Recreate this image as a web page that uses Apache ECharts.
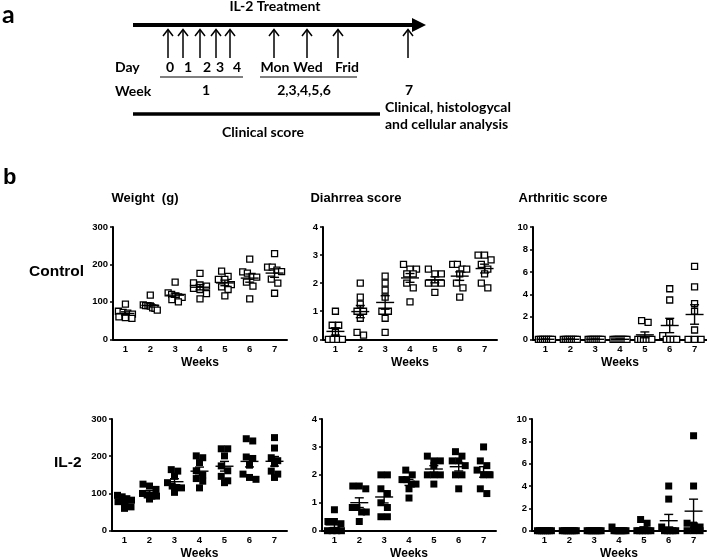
<!DOCTYPE html>
<html><head><meta charset="utf-8">
<script src="https://cdn.jsdelivr.net/npm/echarts@6/dist/echarts.min.js"></script>
<style>html,body{margin:0;padding:0;background:#fff}#c{width:707px;height:558px}</style>
</head><body><div id="c"></div>
<script>
// ---------- data ----------
const weeks = ['1','2','3','4','5','6','7'];
const panelTitles = ['Weight  (g)', 'Diahrrea score', 'Arthritic score'];
const rowLabels = ['Control', 'IL-2'];

const weightCtrl = [
  [94, 75, 72, 70, 67, 60, 58, 56],
  [118, 92, 90, 90, 89, 84, 83, 78],
  [153, 124, 120, 115, 113, 112, 106, 100],
  [176, 151, 145, 142, 136, 133, 122, 108],
  [182, 168, 160, 160, 146, 140, 133, 116],
  [214, 180, 177, 168, 166, 153, 142, 108],
  [229, 193, 193, 185, 181, 161, 150, 123]
];
const diarrheaCtrl = [
  [1.0, 0.5, 0.5, 0.25, 0, 0, 0, 0],
  [2.0, 1.5, 1.25, 1.0, 1.0, 0.75, 0.25, 0.15],
  [2.25, 2.0, 1.75, 1.5, 1.0, 1.0, 0.75, 0.25],
  [2.67, 2.5, 2.5, 2.33, 2.33, 2.0, 1.83, 1.33],
  [2.5, 2.33, 2.33, 2.0, 2.0, 2.0, 1.67],
  [2.67, 2.67, 2.5, 2.5, 2.33, 2.0, 1.83, 1.5],
  [3.0, 3.0, 2.83, 2.67, 2.5, 2.33, 2.0, 1.83]
];
const arthritisCtrl = [
  [0, 0, 0, 0, 0, 0, 0, 0],
  [0, 0, 0, 0, 0, 0, 0, 0],
  [0, 0, 0, 0, 0, 0, 0, 0],
  [0, 0, 0, 0, 0, 0, 0, 0],
  [1.67, 1.5, 0, 0, 0, 0, 0, 0],
  [4.5, 3.5, 1.5, 0.33, 0, 0, 0, 0],
  [6.5, 4.67, 3.17, 2.5, 0.83, 0, 0, 0]
];
const weightIL2 = [
  [95, 91, 86, 82, 78, 78, 64, 60],
  [125, 120, 111, 100, 96, 93, 93, 85],
  [164, 160, 146, 129, 120, 116, 115, 103],
  [201, 196, 183, 161, 150, 140, 133, 115],
  [220, 220, 201, 174, 161, 146, 134, 129],
  [247, 241, 198, 194, 176, 152, 143, 138],
  [250, 222, 196, 188, 180, 160, 152, 143]
];
const diarrheaIL2 = [
  [0.75, 0.33, 0.33, 0.25, 0, 0, 0, 0],
  [1.6, 1.6, 1.5, 0.83, 0.83, 0.67, 0.67, 0.33],
  [2.0, 2.0, 1.5, 1.33, 1.0, 0.83, 0.5, 0.5],
  [2.17, 2.0, 1.83, 1.83, 1.67, 1.67, 1.5, 1.17],
  [2.67, 2.5, 2.5, 2.33, 2.0, 2.0, 2.0, 1.67],
  [2.83, 2.67, 2.5, 2.5, 2.33, 2.0, 2.0, 1.5],
  [3.0, 2.5, 2.33, 2.17, 2.0, 2.0, 1.5, 1.33]
];
const arthritisIL2 = [
  [0, 0, 0, 0, 0, 0, 0, 0],
  [0, 0, 0, 0, 0, 0, 0, 0],
  [0, 0, 0, 0, 0, 0, 0, 0],
  [0.33, 0, 0, 0, 0, 0, 0, 0],
  [1.0, 0.67, 0, 0, 0, 0, 0, 0],
  [4.0, 2.83, 0.33, 0, 0, 0, 0, 0],
  [8.5, 4.0, 0.67, 0.5, 0.33, 0, 0, 0]
];
const yMax = [300, 4, 10];
const yInterval = [100, 1, 2];

// ---------- layout ----------
const gridBoxes = [
  {left:113, top:227, width:174, height:112.3},
  {left:323, top:227, width:174, height:112.3},
  {left:533, top:227, width:174, height:112.3},
  {left:112, top:419, width:175, height:111.7},
  {left:322, top:419, width:174, height:111.7},
  {left:532, top:419, width:174, height:111.7}
];
const panels = [
  {data: weightCtrl, kind:0, filled:false},
  {data: diarrheaCtrl, kind:1, filled:false},
  {data: arthritisCtrl, kind:2, filled:false},
  {data: weightIL2, kind:0, filled:true},
  {data: diarrheaIL2, kind:1, filled:true},
  {data: arthritisIL2, kind:2, filled:true}
];

function jitter(vals, ppu) {
  const size = 6.5, lim = 7;
  const idx = vals.map((v, i) => i).sort((a, b) => vals[b] - vals[a]);
  const rows = []; let cur = null;
  idx.forEach(i => {
    const y = vals[i] * ppu;
    if (cur && Math.abs(cur.y0 - y) < size - 1) cur.items.push(i);
    else { cur = {y0: y, items: [i]}; rows.push(cur); }
  });
  const offs = new Array(vals.length).fill(0);
  rows.forEach(r => {
    const k = r.items.length;
    const step = k > 1 ? Math.min(size, 2 * lim / (k - 1)) : 0;
    r.items.forEach((i, j) => { offs[i] = (j - (k - 1) / 2) * step; });
  });
  return offs;
}
function meanSem(vals) {
  const n = vals.length, m = vals.reduce((a, b) => a + b, 0) / n;
  const sd = Math.sqrt(vals.reduce((a, b) => a + (b - m) * (b - m), 0) / (n - 1));
  return [m, sd / Math.sqrt(n)];
}

const FONT = '"Liberation Sans", Arial, sans-serif';
const grid = [], xAxis = [], yAxis = [], series = [];
panels.forEach((p, gi) => {
  const g = gridBoxes[gi];
  grid.push(Object.assign({outerBoundsMode:'none', containLabel:false}, g));
  xAxis.push({
    type:'category', gridIndex:gi, data:weeks, boundaryGap:true,
    name:'Weeks', nameLocation:'middle', nameGap:17,
    nameTextStyle:{fontFamily:FONT, fontWeight:'bold', fontSize:12, color:'#000'},
    axisLine:{lineStyle:{color:'#000', width:2}},
    axisTick:{alignWithLabel:true, length:3, lineStyle:{color:'#000', width:1.5}},
    axisLabel:{interval:0, margin:5, fontFamily:FONT, fontWeight:'bold', fontSize:9.5, color:'#000'},
    splitLine:{show:false}
  });
  yAxis.push({
    type:'value', gridIndex:gi, min:0, max:yMax[p.kind], interval:yInterval[p.kind],
    axisLine:{show:true, lineStyle:{color:'#000', width:2}},
    axisTick:{show:true, length:3, lineStyle:{color:'#000', width:1.5}},
    axisLabel:{margin:5, fontFamily:FONT, fontWeight:'bold', fontSize:9.5, color:'#000'},
    splitLine:{show:false}
  });
  const ppu = g.height / yMax[p.kind];
  const pts = [];
  const stats = [];
  p.data.forEach((vals, wi) => {
    const offs = jitter(vals, ppu);
    vals.forEach((v, k) => pts.push({value:[wi, v], symbolOffset:[offs[k], 0]}));
    const ms = meanSem(vals);
    stats.push([wi, ms[0], ms[1]]);
  });
  series.push({
    type:'scatter', xAxisIndex:gi, yAxisIndex:gi, data:pts,
    symbol:'rect', symbolSize:p.filled ? 7 : 6, z:2,
    itemStyle: p.filled ? {color:'#000', opacity:1} : {color:'#fff', borderColor:'#000', borderWidth:1.3, opacity:1},
    emphasis:{disabled:true}, silent:true
  });
  series.push({
    type:'custom', xAxisIndex:gi, yAxisIndex:gi, data:stats, z:5, silent:true,
    renderItem: function (params, api) {
      const x = api.value(0), m = api.value(1), s = api.value(2);
      const pm = api.coord([x, m]), pt = api.coord([x, m + s]), pb = api.coord([x, m - s]);
      const st = {stroke:'#000', lineWidth:1.4};
      return {type:'group', children:[
        {type:'line', shape:{x1:pm[0]-9, y1:pm[1], x2:pm[0]+9, y2:pm[1]}, style:st},
        {type:'line', shape:{x1:pt[0], y1:pt[1], x2:pb[0], y2:pb[1]}, style:st},
        {type:'line', shape:{x1:pt[0]-4.5, y1:pt[1], x2:pt[0]+4.5, y2:pt[1]}, style:st},
        {type:'line', shape:{x1:pb[0]-4.5, y1:pb[1], x2:pb[0]+4.5, y2:pb[1]}, style:st}
      ]};
    }
  });
});

// ---------- annotation (panel a and labels) ----------
const AF = 'Lato, "Open Sans", sans-serif';
function txt(t, x, y, font, align) {
  return {type:'text', x:x, y:y, silent:true, style:{text:t, font:font, fill:'#000',
    align:align || 'center', verticalAlign:'middle', textAlign:align || 'center', textVerticalAlign:'middle'}};
}
function ln(x1, y1, x2, y2, w) {
  return {type:'line', silent:true, shape:{x1:x1, y1:y1, x2:x2, y2:y2}, style:{stroke:'#000', lineWidth:w}};
}
const AFS = 'bold 14px ' + AF;
const g = [];
g.push(txt('a', 2, 15, 'bold 25px ' + AF, 'left'));
g.push(txt('IL-2 Treatment', 275, 6, AFS));
g.push(ln(133, 25, 418, 25, 4));
g.push({type:'polygon', silent:true, shape:{points:[[412,18],[426,25],[412,32]]}, style:{fill:'#000'}});
[168, 183, 200, 216, 230, 274, 307, 338, 408].forEach(x => {
  g.push(ln(x, 58, x, 30, 1.5));
  g.push({type:'polyline', silent:true, shape:{points:[[x-5,36],[x,29.5],[x+5,36]]}, style:{stroke:'#000', lineWidth:1.5, fill:null}});
});
g.push(txt('Day', 115, 67, AFS, 'left'));
[['0',170],['1',188],['2',207],['3',220],['4',237],['Mon',275],['Wed',308],['Frid',347]].forEach(d => g.push(txt(d[0], d[1], 67, AFS)));
g.push(ln(160, 77, 243, 77, 1.2));
g.push(ln(260, 77, 357, 77, 1.2));
g.push(txt('Week', 115, 91, AFS, 'left'));
g.push(txt('1', 206, 90, AFS));
g.push(txt('2,3,4,5,6', 304, 90, AFS));
g.push(txt('7', 409, 90, AFS));
g.push(ln(133, 114, 380, 114, 3.5));
g.push(txt('Clinical score', 263, 132, AFS));
g.push(txt('Clinical, histologycal', 385, 107, AFS, 'left'));
g.push(txt('and cellular analysis', 385, 124, AFS, 'left'));

g.push(txt('b', 3, 178, 'bold 22px ' + FONT, 'left'));
[145, 356, 563].forEach((x, i) => g.push(txt(panelTitles[i], x, 198, 'bold 13px ' + FONT)));
g.push(txt(rowLabels[0], 29, 272, 'bold 15.5px ' + FONT, 'left'));
g.push(txt(rowLabels[1], 54, 463, 'bold 15.5px ' + FONT, 'left'));

const chart = echarts.init(document.getElementById('c'), null, {renderer:'canvas'});
chart.setOption({
  animation:false, backgroundColor:'#fff',
  grid:grid, xAxis:xAxis, yAxis:yAxis, series:series, graphic:{elements:g}
});
</script></body></html>
